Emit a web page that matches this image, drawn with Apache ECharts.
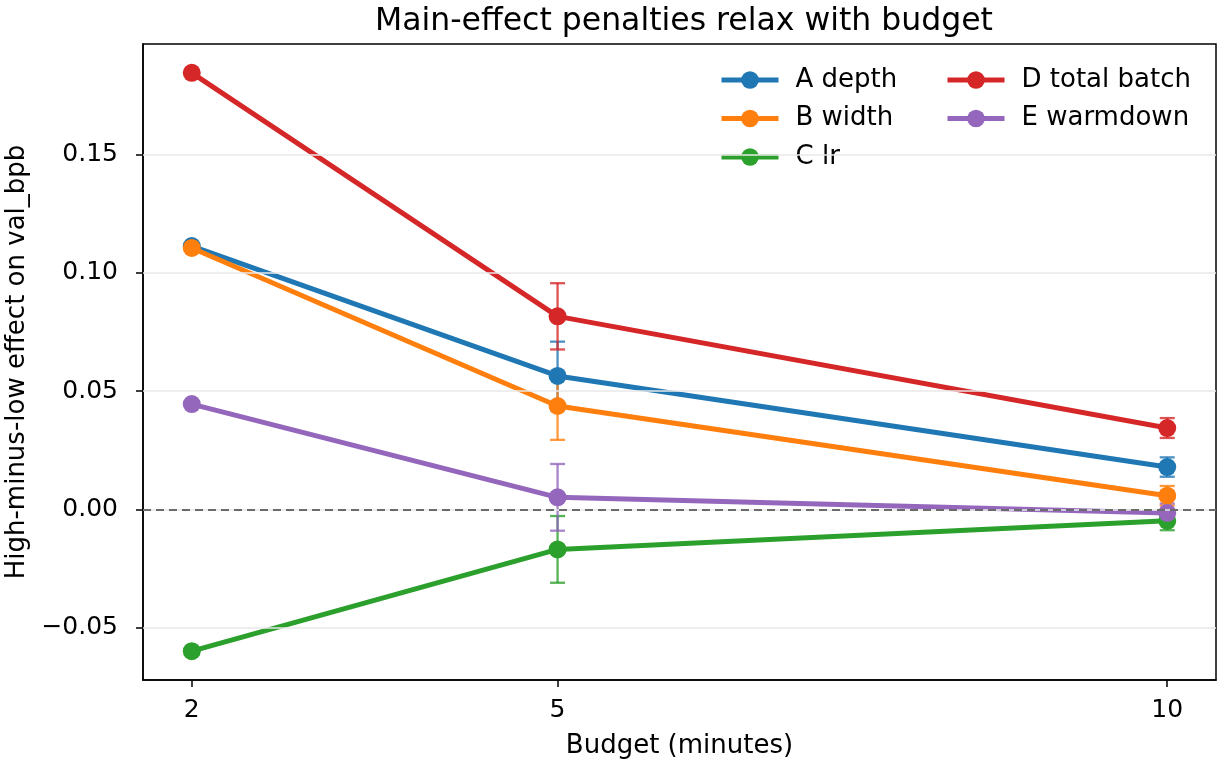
<!DOCTYPE html>
<html>
<head>
<meta charset="utf-8">
<script src="https://cdn.jsdelivr.net/npm/echarts@6/dist/echarts.min.js"></script>
<style>
  html, body { margin: 0; padding: 0; background: #fff; }
  #chart { width: 1225px; height: 761px; }
</style>
</head>
<body>
<div id="chart"></div>
<script>
const budgets = [2, 5, 10];
const xTicks = [2, 5, 10];
const yTicks = [-0.05, 0, 0.05, 0.1, 0.15];

const names = ['A depth', 'B width', 'C lr', 'D total batch', 'E warmdown'];
const colors = ['#1f77b4', '#ff7f0e', '#2ca02c', '#d62728', '#9467bd'];

const effA = [0.1113, 0.0564, 0.0179];
const effB = [0.1105, 0.0437, 0.0058];
const effC = [-0.0599, -0.0169, -0.0048];
const effD = [0.1845, 0.0816, 0.0344];
const effE = [0.0445, 0.0051, -0.0015];

const errA = [0, 0.0145, 0.0041];
const errB = [0, 0.0143, 0.0041];
const errC = [0, 0.0141, 0.0040];
const errD = [0, 0.0140, 0.0042];
const errE = [0, 0.0141, 0.0040];

const effects = [effA, effB, effC, effD, effE];
const errors = [errA, errB, errC, errD, errE];

const font = 'DejaVu Sans';
const fmt = v => Number(v).toFixed(2).replace('-', '\u2212');

const series = [];

// grid lines and dashed zero line
series.push({
  type: 'line',
  data: [],
  silent: true,
  z: 1,
  markLine: {
    symbol: 'none',
    silent: true,
    label: { show: false },
    data: yTicks.map(v => ({
      yAxis: v,
      lineStyle: { color: '#e8e8e8', width: 1.5, type: 'solid' }
    })).concat([{
      yAxis: 0,
      lineStyle: { color: '#6b6b6b', width: 2, type: [8, 5] }
    }])
  }
});

effects.forEach((vals, i) => {
  series.push({
    name: names[i],
    type: 'line',
    z: 3,
    data: budgets.map((b, j) => [b, vals[j]]),
    symbol: 'circle',
    symbolSize: 18,
    color: colors[i],
    lineStyle: { width: 5, color: colors[i] },
    itemStyle: { color: colors[i] },
    emphasis: { disabled: true }
  });
  const errData = [];
  budgets.forEach((b, j) => {
    if (errors[i][j] > 0) errData.push([b, vals[j] - errors[i][j], vals[j] + errors[i][j]]);
  });
  series.push({
    type: 'custom',
    z: 3,
    silent: true,
    data: errData,
    encode: { x: 0, y: [1, 2] },
    renderItem: (params, api) => {
      const x = api.value(0);
      const top = api.coord([x, api.value(2)]);
      const bot = api.coord([x, api.value(1)]);
      const w = 7.5;
      const st = { stroke: colors[i], lineWidth: 2.3, opacity: 0.8 };
      return {
        type: 'group',
        children: [
          { type: 'line', shape: { x1: top[0], y1: top[1], x2: bot[0], y2: bot[1] }, style: st },
          { type: 'line', shape: { x1: top[0] - w, y1: top[1], x2: top[0] + w, y2: top[1] }, style: st },
          { type: 'line', shape: { x1: bot[0] - w, y1: bot[1], x2: bot[0] + w, y2: bot[1] }, style: st }
        ]
      };
    }
  });
});

const legendCommon = {
  orient: 'vertical',
  top: 62,
  itemWidth: 57,
  itemHeight: 22,
  itemGap: 12.5,
  selectedMode: false,
  lineStyle: { width: 5 },
  textStyle: { fontFamily: font, fontSize: 26, color: '#000', lineHeight: 26, padding: [0, 0, 0, 12] }
};

const option = {
  animation: false,
  backgroundColor: '#fff',
  title: {
    text: 'Main-effect penalties relax with budget',
    left: 679,
    textAlign: 'center',
    top: 1,
    textStyle: { fontFamily: font, fontSize: 31.5, fontWeight: 'normal', color: '#000' }
  },
  legend: [
    Object.assign({ left: 714, data: names.slice(0, 3) }, legendCommon),
    Object.assign({ left: 940, data: names.slice(3) }, legendCommon)
  ],
  grid: {
    left: 143, right: 9, top: 44, bottom: 81,
    outerBoundsMode: 'none',
    containLabel: false,
    show: true, borderColor: '#000', borderWidth: 1.5, backgroundColor: 'transparent'
  },
  xAxis: {
    type: 'value',
    min: 1.6,
    max: 10.4,
    name: 'Budget (minutes)',
    nameLocation: 'middle',
    nameGap: 53,
    nameTextStyle: { fontFamily: font, fontSize: 26, color: '#000' },
    axisLine: { show: true, onZero: false, lineStyle: { color: '#000', width: 1.5 } },
    axisTick: { show: true, inside: false, length: 7, customValues: xTicks, lineStyle: { color: '#000', width: 1.5 } },
    axisLabel: { customValues: xTicks, margin: 18, fontFamily: font, fontSize: 25, color: '#000' },
    splitLine: { show: false }
  },
  yAxis: {
    type: 'value',
    min: -0.0721,
    max: 0.1967,
    name: 'High-minus-low effect on val_bpb',
    nameLocation: 'middle',
    nameGap: 102,
    nameTextStyle: { fontFamily: font, fontSize: 26, color: '#000' },
    axisLine: { show: true, onZero: false, lineStyle: { color: '#000', width: 1.5 } },
    axisTick: { show: true, inside: false, length: 7, customValues: yTicks, lineStyle: { color: '#000', width: 1.5 } },
    axisLabel: { customValues: yTicks, margin: 25, fontFamily: font, fontSize: 25, color: '#000', formatter: fmt },
    splitLine: { show: false }
  },
  series: series
};

const chart = echarts.init(document.getElementById('chart'));
chart.setOption(option);
</script>
</body>
</html>
